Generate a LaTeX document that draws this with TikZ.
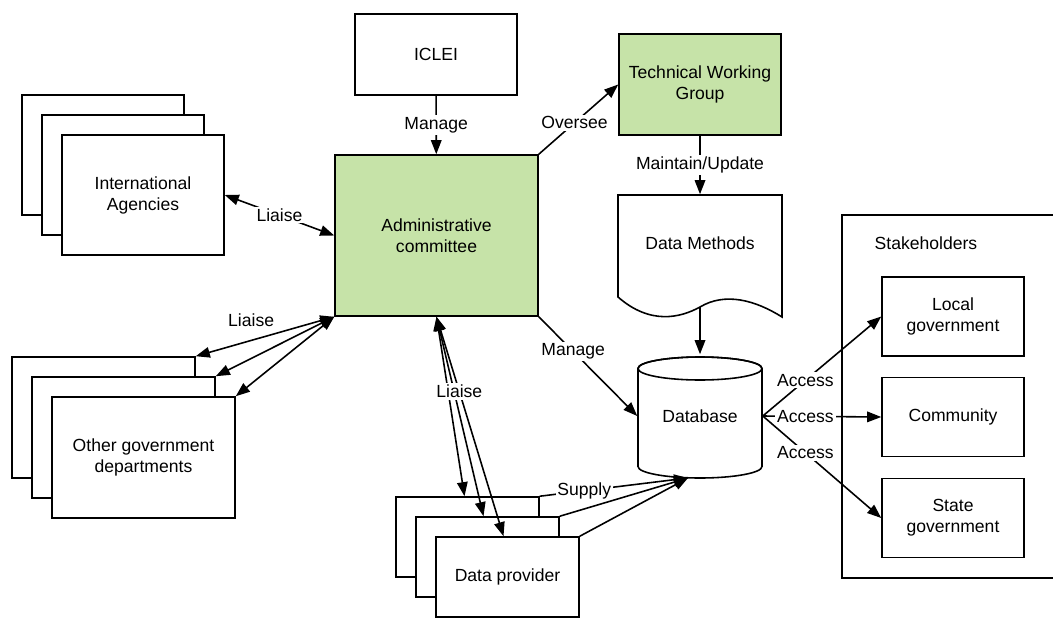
\documentclass[tikz,border=0pt]{standalone}
\usepackage{fontspec}
\setmainfont{Liberation Sans}
\usetikzlibrary{arrows.meta,calc}
\definecolor{boxgreen}{RGB}{198,227,168}

\begin{document}
\begin{tikzpicture}[x=0.02cm, y=-0.02cm, line width=0.9pt,
		box/.style={draw, fill=white, align=center, inner sep=2pt},
		greenbox/.style={box, fill=boxgreen},
		lbl/.style={fill=white, inner sep=1pt},
		arr/.style={-{Triangle[length=8pt,width=6pt]}},
		biarr/.style={{Triangle[length=8pt,width=6pt]}-{Triangle[length=8pt,width=6pt]}}]
			%%%%% START %%%%%
			
			\useasboundingbox (0,0) rectangle (1053,618);
			
			\node[box, minimum width=3.24cm, minimum height=1.62cm] (iclei) at (436,54.5) {ICLEI};
			\node[greenbox, minimum width=4.06cm, minimum height=3.22cm] (admin) at (436.5,235.5) {Administrative\\committee};
			\node[greenbox, minimum width=3.24cm, minimum height=2.02cm] (twg) at (700,84.5) {Technical Working\\Group};
			
			\draw[fill=white] (618,195) -- (782,195) -- (782,317) .. controls (755,300) and (725,292) .. (700,307) .. controls (680,318) and (650,325) .. (618,297) -- cycle;
			\node[minimum width=3.28cm, minimum height=1.92cm] (methods) at (700,243) {Data Methods};
			\coordinate (mbot) at (700,307);
			
			\node[minimum width=2.48cm, minimum height=2.44cm] (db) at (700,416) {};
			\draw[fill=white] (638,368.5) -- (638,466.5) arc[start angle=180, end angle=360, x radius=1.24cm, y radius=0.23cm] -- (762,368.5) arc[start angle=0, end angle=180, x radius=1.24cm, y radius=0.23cm] -- cycle;
			\draw (700,368.5) ellipse [x radius=1.24cm, y radius=0.23cm];
			\node at (db) {Database};
			\coordinate (dbin) at (688,478);
			
			\node[box, minimum width=3.24cm, minimum height=2.4cm] (intl3) at (103,155) {};
			\node[box, minimum width=3.24cm, minimum height=2.4cm] (intl2) at (123,175) {};
			\node[box, minimum width=3.24cm, minimum height=2.4cm] (intl) at (143,195) {International\\Agencies};
			
			\node[box, minimum width=3.66cm, minimum height=2.42cm] (oth3) at (103.5,417.5) {};
			\node[box, minimum width=3.66cm, minimum height=2.42cm] (oth2) at (123.5,437.5) {};
			\node[box, minimum width=3.66cm, minimum height=2.42cm] (oth) at (143.5,457.5) {Other government\\departments};
			
			\node[box, minimum width=2.86cm, minimum height=1.6cm] (prov3) at (467.5,537) {};
			\node[box, minimum width=2.86cm, minimum height=1.6cm] (prov2) at (487.5,557) {};
			\node[box, minimum width=2.86cm, minimum height=1.6cm] (prov) at (507.5,577) {Data provider};
			
			\draw (1053,215) -- (842,215) -- (842,578) -- (1053,578);
			\node[anchor=west] (stake) at (868,243) {Stakeholders};
			\node[box, minimum width=2.84cm, minimum height=1.58cm] (local) at (953,316.5) {Local\\government};
			\node[box, minimum width=2.84cm, minimum height=1.58cm] (comm) at (953,417) {Community};
			\node[box, minimum width=2.84cm, minimum height=1.58cm] (state) at (953,518) {State\\government};
			
			\draw[arr] (iclei) -- node[lbl]{Manage} (admin);
			\draw[arr] (admin.north east) -- node[lbl, pos=0.45]{Oversee} (twg.west);
			\draw[arr] (twg.south) -- node[lbl]{Maintain/Update} (methods.north);
			\draw[arr] (mbot) -- (db.north);
			\draw[arr] (admin.south east) -- node[lbl, pos=0.35]{Manage} (db.west);
			
			\draw[biarr] (intl.east) -- node[lbl]{Liaise} (admin.west);
			
			\draw[biarr] (admin.south west) -- node[above=4pt, pos=0.6]{Liaise} (oth3.north east);
			\draw[biarr] (admin.south west) -- (oth2.north east);
			\draw[biarr] (admin.south west) -- (oth.north east);
			
			\draw[biarr] (admin.south) -- ($(prov3.north)+(-3,0)$);
			\draw[biarr] (admin.south) -- ($(prov2.north)+(-4,0)$);
			\draw[biarr] (admin.south) -- node[lbl, pos=0.34]{Liaise} ($(prov.north)+(-4,0)$);
			
			\draw[arr] (prov3.north east) -- node[lbl, pos=0.3]{Supply} (dbin);
			\draw[arr] (prov2.north east) -- (dbin);
			\draw[arr] (prov.north east) -- (dbin);
			
			\draw[arr] (db.east) -- node[lbl, pos=0.36]{Access} (local.west);
			\draw[arr] (db.east) -- node[lbl, pos=0.36]{Access} (comm.west);
			\draw[arr] (db.east) -- node[lbl, pos=0.36]{Access} (state.west);
			
			%%%%% END %%%%%
\end{tikzpicture}
\end{document}
